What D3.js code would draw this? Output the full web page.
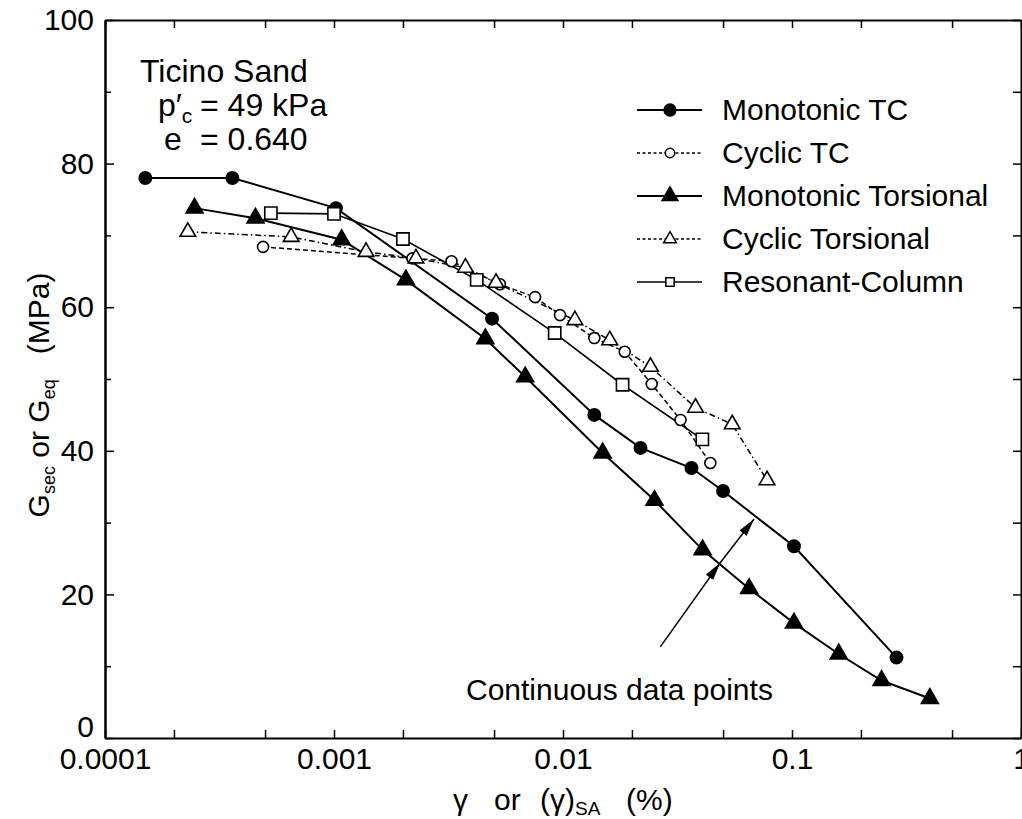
<!DOCTYPE html>
<html>
<head>
<meta charset="utf-8">
<script src="https://cdn.jsdelivr.net/npm/d3@7/dist/d3.min.js"></script>
<style>
  body { margin: 0; background: #fff; }
  svg { display: block; font-family: "Liberation Sans", Arial, Helvetica, sans-serif; }
</style>
</head>
<body>
<svg id="chart" width="1022" height="819"></svg>
<script>
// strain in %, modulus in MPa
var monoTcX = [0.00015, 0.00036, 0.00102, 0.0049, 0.0137, 0.0218, 0.0364, 0.050, 0.102, 0.286];
var monoTcY = [78.0, 78.0, 73.8, 58.4, 45.0, 40.4, 37.6, 34.4, 26.7, 11.2];

var cycTcX = [0.00049, 0.0022, 0.00326, 0.0053, 0.00755, 0.0097, 0.0137, 0.0186, 0.0244, 0.0326, 0.044];
var cycTcY = [68.4, 66.8, 66.4, 63.2, 61.4, 58.9, 55.7, 53.8, 49.3, 44.3, 38.3];

var monoTorX = [0.000246, 0.000454, 0.00108, 0.00206, 0.00458, 0.00684, 0.0149, 0.0251, 0.0407, 0.065, 0.102, 0.16, 0.246, 0.40];
var monoTorY = [73.8, 72.4, 69.4, 63.8, 55.6, 50.3, 39.7, 33.1, 26.2, 20.8, 16.0, 11.7, 8.0, 5.5];

var cycTorX = [0.00023, 0.00065, 0.00138, 0.00228, 0.00375, 0.0051, 0.01127, 0.016, 0.0241, 0.0379, 0.0548, 0.0778];
var cycTorY = [70.5, 69.8, 67.7, 66.8, 65.5, 63.4, 58.2, 55.4, 51.7, 46.0, 43.7, 35.9];

var rcX = [0.00053, 0.00100, 0.0020, 0.0042, 0.0092, 0.0182, 0.0406];
var rcY = [73.1, 73.0, 69.5, 63.8, 56.4, 49.2, 41.6];

var seriesNames = ['Monotonic TC', 'Cyclic TC', 'Monotonic Torsional', 'Cyclic Torsional', 'Resonant-Column'];

var xTickVals = [1e-4, 2e-4, 5e-4, 1e-3, 2e-3, 5e-3, 1e-2, 2e-2, 5e-2, 0.1, 0.2, 0.5, 1];
var xLabelVals = [1e-4, 1e-3, 1e-2, 0.1, 1];
var xTickLabels = ['0.0001', '0.001', '0.01', '0.1', '1'];
var yMajor = [0, 20, 40, 60, 80, 100];
var yMinor = [10, 30, 50, 70, 90];

// arrow from the note towards the two monotonic curves
var arrowX = [0.0266, 0.0486, 0.0683];
var arrowY = [12.7, 24.4, 30.5];

var svg = d3.select('#chart');
svg.append('rect').attr('width', 1022).attr('height', 819).attr('fill', '#fff');

var x = d3.scaleLog().domain([1e-4, 1]).range([105, 1021]),
	y = d3.scaleLinear().domain([0, 100]).range([738, 20]);

function zip(xs, ys){
	return xs.map(function(v, i){ return [v, ys[i]]; });
}

var series = [
	{ name: seriesNames[0], pts: zip(monoTcX, monoTcY), sym: d3.symbolCircle, size: 120, fill: '#000', dash: null, w: 2 },
	{ name: seriesNames[1], pts: zip(cycTcX, cycTcY), sym: d3.symbolCircle, size: 95, fill: '#fff', dash: '5,3', w: 1.5 },
	{ name: seriesNames[2], pts: zip(monoTorX, monoTorY), sym: d3.symbolTriangle, size: 125, fill: '#000', dash: null, w: 2 },
	{ name: seriesNames[3], pts: zip(cycTorX, cycTorY), sym: d3.symbolTriangle, size: 105, fill: '#fff', dash: '6,3,1.5,3', w: 1.5 },
	{ name: seriesNames[4], pts: zip(rcX, rcY), sym: d3.symbolSquare, size: 150, fill: '#fff', dash: null, w: 1.6 }
];

// axes, all ticks pointing inward
function styleAxis(g, fs){
	g.attr('font-family', null).attr('font-size', fs);
	g.selectAll('.tick line').attr('stroke-width', 1.5);
	g.select('.domain').attr('stroke-width', 2);
}

var labelFor = function(d){
	var i = xLabelVals.indexOf(d);
	return i < 0 ? '' : xTickLabels[i];
};

svg.append('g')
	.attr('transform', 'translate(0,' + y(0) + ')')
	.call(d3.axisBottom(x).tickValues(xTickVals).tickSizeInner(-8).tickSizeOuter(0).tickPadding(10).tickFormat(labelFor))
	.call(styleAxis, 30);

svg.append('g')
	.attr('transform', 'translate(0,' + y(100) + ')')
	.call(d3.axisTop(x).tickValues(xTickVals).tickSizeInner(-8).tickSizeOuter(0).tickFormat(''))
	.call(styleAxis, 30);

var yLeft = svg.append('g')
	.attr('transform', 'translate(' + x(1e-4) + ',0)')
	.call(d3.axisLeft(y).tickValues(yMajor).tickSizeInner(-9).tickSizeOuter(0).tickPadding(11).tickFormat(d3.format('d')))
	.call(styleAxis, 30);
// the zero sits a little higher so it clears the 0.0001 label
yLeft.selectAll('.tick text').filter(function(d){ return d === 0; }).attr('dy', '-0.06em');

svg.append('g')
	.attr('transform', 'translate(' + x(1e-4) + ',0)')
	.call(d3.axisLeft(y).tickValues(yMinor).tickSizeInner(-6).tickSizeOuter(0).tickFormat(''))
	.call(styleAxis, 30);

svg.append('g')
	.attr('transform', 'translate(' + x(1) + ',0)')
	.call(d3.axisRight(y).tickValues(yMajor.concat(yMinor)).tickSizeInner(-8).tickSizeOuter(0).tickFormat(''))
	.call(styleAxis, 30);

// curves
var line = d3.line()
	.x(function(d){ return x(d[0]); })
	.y(function(d){ return y(d[1]); });

svg.append('g').selectAll('path')
	.data(series)
	.enter()
	.append('path')
	.attr('d', function(s){ return line(s.pts); })
	.attr('fill', 'none')
	.attr('stroke', '#000')
	.attr('stroke-width', function(s){ return s.w; })
	.attr('stroke-dasharray', function(s){ return s.dash; });

series.forEach(function(s){
	svg.append('g').selectAll('path')
		.data(s.pts)
		.enter()
		.append('path')
		.attr('transform', function(d){ return 'translate(' + x(d[0]) + ',' + y(d[1]) + ')'; })
		.attr('d', d3.symbol().type(s.sym).size(s.size))
		.attr('fill', s.fill)
		.attr('stroke', '#000')
		.attr('stroke-width', 1.6);
});

// legend
var legend = svg.append('g').attr('transform', 'translate(637,110)');
var rows = legend.selectAll('g')
	.data(series)
	.enter()
	.append('g')
	.attr('transform', function(s, i){ return 'translate(0,' + (i * 43) + ')'; });

rows.append('line')
	.attr('x1', 0).attr('x2', 65)
	.attr('stroke', '#000')
	.attr('stroke-width', function(s){ return s.w; })
	.attr('stroke-dasharray', function(s){ return s.dash ? '3,2.5' : null; });

rows.append('path')
	.attr('transform', 'translate(33,0)')
	.attr('d', function(s){ return d3.symbol().type(s.sym).size(s.fill === '#fff' ? 70 : 110)(); })
	.attr('fill', function(s){ return s.fill; })
	.attr('stroke', '#000')
	.attr('stroke-width', 1.5);

rows.append('text')
	.attr('x', 85)
	.attr('y', 10)
	.attr('font-size', 30)
	.text(function(s){ return s.name; });

// sample description
var note = svg.append('g').attr('font-size', 32);
note.append('text').attr('x', 140).attr('y', 82).text('Ticino Sand');
var p = note.append('text').attr('x', 158).attr('y', 116);
p.append('tspan').text('p\u2032');
p.append('tspan').attr('font-size', 21).attr('dy', 7).text('c');
p.append('tspan').attr('x', 200).attr('dy', -7).text('= 49 kPa');
var e = note.append('text').attr('x', 164).attr('y', 150);
e.append('tspan').text('e');
e.append('tspan').attr('x', 200).text('= 0.640');

// continuous data points note with arrows
var defs = svg.append('defs');
defs.append('marker')
	.attr('id', 'head')
	.attr('viewBox', '0 -5 18 10')
	.attr('refX', 18).attr('refY', 0)
	.attr('markerWidth', 18).attr('markerHeight', 10)
	.attr('markerUnits', 'userSpaceOnUse')
	.attr('orient', 'auto')
	.append('path')
	.attr('d', 'M0,-4.5L18,0L0,4.5Z')
	.attr('fill', '#000');

svg.append('path')
	.attr('d', line(zip(arrowX, arrowY)))
	.attr('fill', 'none')
	.attr('stroke', '#000')
	.attr('stroke-width', 1.5)
	.attr('marker-mid', 'url(#head)')
	.attr('marker-end', 'url(#head)');

svg.append('text')
	.attr('x', 466).attr('y', 700)
	.attr('font-size', 30)
	.text('Continuous data points');

// axis titles
var xt = svg.append('text').attr('y', 810).attr('font-size', 30);
xt.append('tspan').attr('x', 453).text('\u03b3');
xt.append('tspan').attr('x', 494).text('or');
xt.append('tspan').attr('x', 540).text('(\u03b3)');
xt.append('tspan').attr('font-size', 19).attr('dy', 5).text('SA');
xt.append('tspan').attr('x', 626).attr('dy', -5).text('(%)');

var yt = svg.append('text')
	.attr('transform', 'translate(49,395) rotate(-90)')
	.attr('text-anchor', 'middle')
	.attr('font-size', 30)
	.attr('xml:space', 'preserve');
yt.append('tspan').text('G');
yt.append('tspan').attr('font-size', 18).attr('dy', 6).text('sec');
yt.append('tspan').attr('dy', -6).text(' or G');
yt.append('tspan').attr('font-size', 18).attr('dy', 6).text('eq');
yt.append('tspan').attr('dy', -6).text('   (MPa)');
</script>
</body>
</html>
